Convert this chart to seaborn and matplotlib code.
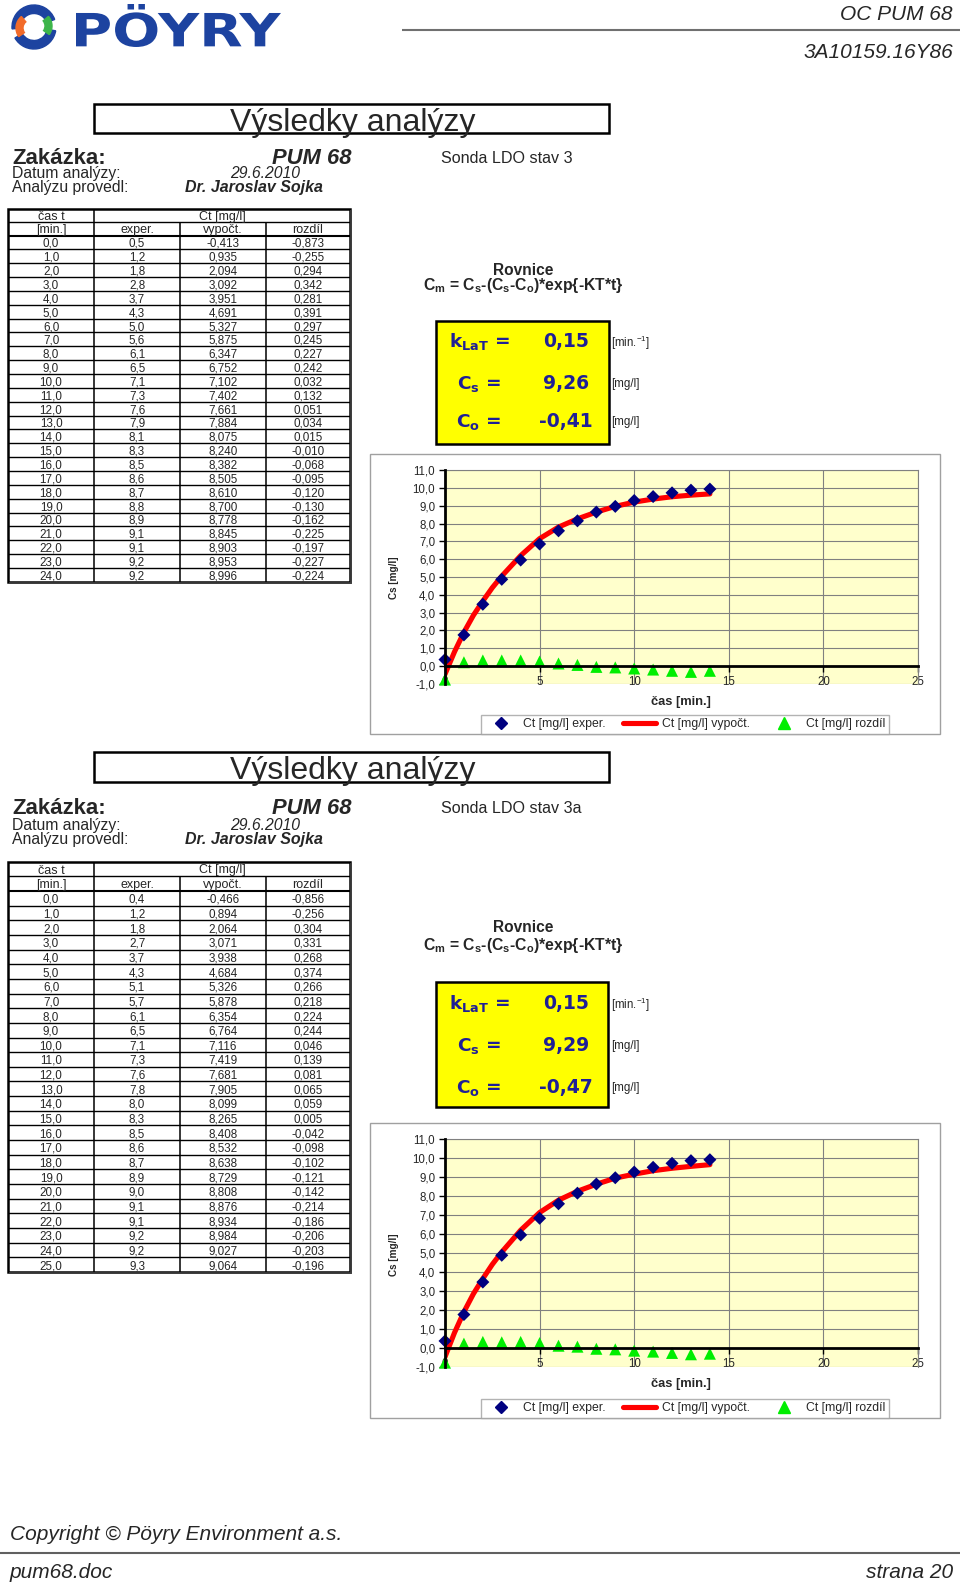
import numpy as np
import pandas as pd
import matplotlib
matplotlib.use("Agg")
import matplotlib.pyplot as plt
import seaborn as sns
from matplotlib.patches import Rectangle, Wedge, PathPatch
from matplotlib.textpath import TextPath
from matplotlib.font_manager import FontProperties
from matplotlib.lines import Line2D
from matplotlib.ticker import FuncFormatter
from matplotlib.transforms import Affine2D

sns.set_theme(style="white")
plt.rcParams['font.family'] = ['Liberation Sans', 'DejaVu Sans']
plt.rcParams['mathtext.fontset'] = 'custom'
plt.rcParams['mathtext.rm'] = 'Liberation Sans:bold'
plt.rcParams['mathtext.bf'] = 'Liberation Sans:bold'
plt.rcParams['mathtext.it'] = 'Liberation Sans:bold:italic'

# ---------------- data ----------------
t1_time = list(range(25))
t1_exper = [0.5, 1.2, 1.8, 2.8, 3.7, 4.3, 5.0, 5.6, 6.1, 6.5, 7.1, 7.3, 7.6, 7.9, 8.1,
            8.3, 8.5, 8.6, 8.7, 8.8, 8.9, 9.1, 9.1, 9.2, 9.2]
t1_calc = [-0.413, 0.935, 2.094, 3.092, 3.951, 4.691, 5.327, 5.875, 6.347, 6.752, 7.102,
           7.402, 7.661, 7.884, 8.075, 8.240, 8.382, 8.505, 8.610, 8.700, 8.778, 8.845,
           8.903, 8.953, 8.996]
t1_diff = [-0.873, -0.255, 0.294, 0.342, 0.281, 0.391, 0.297, 0.245, 0.227, 0.242, 0.032,
           0.132, 0.051, 0.034, 0.015, -0.010, -0.068, -0.095, -0.120, -0.130, -0.162,
           -0.225, -0.197, -0.227, -0.224]

t2_time = list(range(26))
t2_exper = [0.4, 1.2, 1.8, 2.7, 3.7, 4.3, 5.1, 5.7, 6.1, 6.5, 7.1, 7.3, 7.6, 7.8, 8.0,
            8.3, 8.5, 8.6, 8.7, 8.9, 9.0, 9.1, 9.1, 9.2, 9.2, 9.3]
t2_calc = [-0.466, 0.894, 2.064, 3.071, 3.938, 4.684, 5.326, 5.878, 6.354, 6.764, 7.116,
           7.419, 7.681, 7.905, 8.099, 8.265, 8.408, 8.532, 8.638, 8.729, 8.808, 8.876,
           8.934, 8.984, 9.027, 9.064]
t2_diff = [-0.856, -0.256, 0.304, 0.331, 0.268, 0.374, 0.266, 0.218, 0.224, 0.244, 0.046,
           0.139, 0.081, 0.065, 0.059, 0.005, -0.042, -0.098, -0.102, -0.121, -0.142,
           -0.214, -0.186, -0.206, -0.203, -0.196]

# chart series
c_x = list(range(15))
c1_exper = [0.37, 1.75, 3.47, 4.87, 5.95, 6.85, 7.59, 8.15, 8.64, 8.96, 9.29, 9.51, 9.72, 9.87, 9.93]
c1_fit_x = [0, 0.5, 1, 1.5, 2, 2.5, 3, 4, 5, 6, 7, 8, 9, 10, 11, 12, 13, 14]
c1_fit = [-0.45, 0.8, 1.9, 2.85, 3.65, 4.4, 5.05, 6.2, 7.15, 7.8, 8.26, 8.64, 8.96, 9.2,
          9.37, 9.5, 9.59, 9.66]
c1_diff = [-0.75, 0.22, 0.32, 0.32, 0.32, 0.26, 0.15, 0.07, -0.04, -0.07, -0.13, -0.19,
           -0.26, -0.32, -0.26]

c2_exper = [0.37, 1.76, 3.47, 4.88, 5.95, 6.83, 7.59, 8.15, 8.63, 8.96, 9.26, 9.51, 9.72, 9.86, 9.91]
c2_fit_x = [0, 0.5, 1, 1.5, 2, 2.5, 3, 4, 5, 6, 7, 8, 9, 10, 11, 12, 13, 14]
c2_fit = [-0.47, 0.8, 1.9, 2.85, 3.65, 4.4, 5.05, 6.2, 7.13, 7.78, 8.25, 8.62, 8.94, 9.15,
          9.33, 9.46, 9.56, 9.65]
c2_diff = [-0.77, 0.23, 0.32, 0.30, 0.32, 0.26, 0.12, 0.07, -0.04, -0.07, -0.14, -0.19,
           -0.26, -0.33, -0.30]

params1 = ["0,15", "9,26", "-0,41"]
params2 = ["0,15", "9,29", "-0,47"]
sondy = ["Sonda LDO stav 3", "Sonda LDO stav 3a"]
legend_labels = ["Ct [mg/l] exper.", "Ct [mg/l] vypočt.", "Ct [mg/l] rozdíl"]
table_head = ["[min.]", "exper.", "vypočt.", "rozdíl"]
x_ticks = [0, 5, 10, 15, 20, 25]
y_ticks = [-1, 0, 1, 2, 3, 4, 5, 6, 7, 8, 9, 10, 11]

# ---------------- figure ----------------
W, H = 960, 1585
fig = plt.figure(figsize=(W / 100, H / 100), dpi=100)
fig.patch.set_facecolor('white')
bg = fig.add_axes([0, 0, 1, 1], zorder=0)
bg.set_xlim(0, W)
bg.set_ylim(H, 0)
bg.axis('off')

NAVY = '#1f1f96'
VA = 'center_baseline'


def fmt(v, d):
    return f"{v:.{d}f}".replace('.', ',')


def hline(x0, x1, y, lw=1.0, c='black'):
    bg.plot([x0, x1], [y, y], color=c, lw=lw, solid_capstyle='butt')


def vline(x, y0, y1, lw=1.0, c='black'):
    bg.plot([x, x], [y0, y1], color=c, lw=lw, solid_capstyle='butt')


# ---------------- header ----------------
cx, cy, r = 34, 27, 22
bg.add_patch(Wedge((cx, cy), r, -185, -20, width=8.5, color='#1d43a0'))
bg.add_patch(Wedge((cx, cy), r, 10, 150, width=8.5, color='#1d43a0'))
bg.add_patch(Wedge((cx - 3, cy + 1), r - 7, 145, 230, width=7, color='#f26b2a'))
bg.add_patch(Wedge((cx + 3, cy - 1), r - 7, -40, 35, width=7, color='#3db54a'))

fp = FontProperties(family='DejaVu Sans', weight='bold')
tp = TextPath((0, 0), "PÖYRY", size=1, prop=fp)
ext = tp.get_extents()
lx0, lx1, ly0, ly1 = 76, 281, 4, 47
tr = (Affine2D().translate(-ext.x0, -ext.y0)
      .scale((lx1 - lx0) / ext.width, -(ly1 - ly0) / ext.height)
      .translate(lx0, ly1))
bg.add_patch(PathPatch(tr.transform_path(tp), color='#1d43a0', lw=0))

bg.text(953, 12, "OC PUM 68", ha='right', va=VA, fontsize=15, style='italic')
hline(402, 960, 30, lw=1.5, c='#707070')
bg.text(953, 50, "3A10159.16Y86", ha='right', va=VA, fontsize=15, style='italic')

# ---------------- footer ----------------
bg.text(10, 1533, "Copyright © Pöyry Environment a.s.", ha='left', va=VA,
        fontsize=15, style='italic')
hline(0, 960, 1553, lw=1.5, c='#606060')
bg.text(10, 1571, "pum68.doc", ha='left', va=VA, fontsize=15, style='italic')
bg.text(953, 1571, "strana 20", ha='right', va=VA, fontsize=15, style='italic')


def draw_section(S, times, ex, calc, diff, params, sonda,
                 cex, cfx, cfy, cdf):
    # title box
    x0, y0, x1, y1 = S['title_box']
    bg.add_patch(Rectangle((x0, y0), x1 - x0, y1 - y0, fc='white', ec='black', lw=1.8))
    bg.text((x0 + x1) / 2 + 1, S['title_y'], "Výsledky analýzy", ha='center',
            va=VA, fontsize=23)
    # info
    bg.text(12, S['zak_y'], "Zakázka:", ha='left', va=VA, fontsize=16,
            weight='bold')
    bg.text(351, S['zak_y'], "PUM 68", ha='right', va=VA, fontsize=15.8,
            weight='bold', style='italic')
    bg.text(441, S['zak_y'] + 1, sonda, ha='left', va=VA, fontsize=11.6)
    bg.text(12, S['dat_y'], "Datum analýzy:", ha='left', va=VA, fontsize=11.3)
    bg.text(230, S['dat_y'], "29.6.2010", ha='left', va=VA, fontsize=11.3,
            style='italic')
    bg.text(12, S['ana_y'], "Analýzu provedl:", ha='left', va=VA, fontsize=11.3)
    bg.text(185, S['ana_y'], "Dr. Jaroslav Sojka", ha='left', va=VA,
            fontsize=11.5, weight='bold', style='italic')

    # table
    xc = [8, 94, 180, 266, 350]
    top, r1, r2, pitch = S['tab']
    n = len(times)
    bottom = r2 + n * pitch
    bg.text((xc[0] + xc[1]) / 2, (top + r1) / 2, "čas t", ha='center',
            va=VA, fontsize=9)
    bg.text((xc[1] + xc[4]) / 2, (top + r1) / 2, "Ct [mg/l]", ha='center',
            va=VA, fontsize=9)
    for j, lab in enumerate(table_head):
        bg.text((xc[j] + xc[j + 1]) / 2, (r1 + r2) / 2, lab, ha='center',
                va=VA, fontsize=9)
    for i in range(n):
        yc = r2 + (i + 0.5) * pitch
        vals = [fmt(times[i], 1), fmt(ex[i], 1), fmt(calc[i], 3), fmt(diff[i], 3)]
        for j, v in enumerate(vals):
            bg.text((xc[j] + xc[j + 1]) / 2, yc, v, ha='center', va=VA,
                    fontsize=8.4)
        if i > 0:
            hline(xc[0], xc[4], r2 + i * pitch, lw=1.0)
    hline(xc[0], xc[4], r1, lw=1.0)
    hline(xc[0], xc[4], r2, lw=1.5)
    vline(xc[1], top, bottom, lw=1.1)
    vline(xc[2], r1, bottom, lw=1.1)
    vline(xc[3], r1, bottom, lw=1.1)
    bg.add_patch(Rectangle((xc[0], top), xc[4] - xc[0], bottom - top, fc='none',
                           ec='black', lw=1.8))
    vline(xc[4] + 0.8, top + 1, bottom + 1.5, lw=1.2, c='#404040')
    hline(xc[0] + 1, xc[4] + 1.5, bottom + 0.8, lw=1.2, c='#404040')

    # equation
    bg.text(523, S['rov_y'], "Rovnice", ha='center', va=VA, fontsize=11.2,
            weight='bold')
    bg.text(523, S['eq_y'],
            r"C$_\mathbf{m}$ = C$_\mathbf{s}$-(C$_\mathbf{s}$-C$_\mathbf{o}$)*exp{-KT*t}",
            ha='center', va=VA, fontsize=11.3, weight='bold')

    # yellow box
    x0, y0, x1, y1 = S['ybox']
    bg.add_patch(Rectangle((x0, y0), x1 - x0, y1 - y0, fc='#ffff00', ec='black', lw=1.8))
    labels = [r"k$_\mathbf{LaT}$ =", r"C$_\mathbf{s}$ =", r"C$_\mathbf{o}$ ="]
    units = [r"[min.$^{\mathregular{-1}}$]", "[mg/l]", "[mg/l]"]
    for lab, val, unit, yy in zip(labels, params, units, S['yrows']):
        bg.text(479, yy, lab, ha='center', va=VA, fontsize=13.3, weight='bold',
                color=NAVY, family='DejaVu Sans', math_fontfamily='dejavusans')
        bg.text(566, yy, val, ha='center', va=VA, fontsize=13.5, weight='bold',
                color=NAVY, family='DejaVu Sans')
        bg.text(611, yy + 1, unit, ha='left', va=VA, fontsize=8.3,
                math_fontfamily='dejavusans')

    # chart
    x0, y0, x1, y1 = S['outer']
    bg.add_patch(Rectangle((x0, y0), x1 - x0, y1 - y0, fc='white', ec='#a0a0a0', lw=1.0))
    px0, py0, px1, py1 = S['plot']
    ax = fig.add_axes([px0 / W, 1 - py1 / H, (px1 - px0) / W, (py1 - py0) / H], zorder=2)
    ax.set_facecolor('#ffffcc')
    sns.lineplot(x=cfx, y=cfy, color='#ff0000', lw=3.7, ax=ax, sort=False,
                 estimator=None, zorder=3)
    sns.scatterplot(x=c_x, y=cex, marker='D', color='#000080', s=44, edgecolor='none',
                    ax=ax, zorder=4, clip_on=False)
    sns.scatterplot(x=c_x, y=cdf, marker='^', color='#00ee00', s=75, edgecolor='none',
                    ax=ax, zorder=4, clip_on=False)
    ax.set_xlim(0, 25)
    ax.set_ylim(-1, 11)
    ax.set_xticks(x_ticks)
    ax.set_yticks(y_ticks)
    ax.xaxis.set_major_formatter(FuncFormatter(lambda v, p: f"{v:.0f}"))
    ax.yaxis.set_major_formatter(FuncFormatter(lambda v, p: fmt(v, 1)))
    ax.grid(True, color='#808080', lw=0.8)
    ax.set_axisbelow(True)
    for s in ['top', 'right']:
        ax.spines[s].set_color('#808080')
        ax.spines[s].set_linewidth(0.8)
    ax.spines['left'].set_color('black')
    ax.spines['left'].set_linewidth(2.0)
    ax.spines['bottom'].set_color('black')
    ax.spines['bottom'].set_linewidth(2.0)
    ax.spines['bottom'].set_position(('data', 0))
    ax.spines['left'].set_zorder(5)
    ax.spines['bottom'].set_zorder(5)
    ax.tick_params(axis='both', direction='out', length=4, width=1, color='black',
                   labelsize=8.3, pad=3, left=True, bottom=True)
    ax.set_xlabel('')
    ax.set_ylabel('')
    bg.text((px0 + px1) / 2 - 1, S['xlab_y'], "čas [min.]", ha='center', va=VA,
            fontsize=9.3, weight='bold')
    bg.text(S['ylab'][0], S['ylab'][1], "Cs [mg/l]", ha='center', va='center',
            fontsize=7.2, weight='bold', rotation=90)

    handles = [Line2D([], [], marker='D', color='#000080', ls='none', ms=6),
               Line2D([], [], color='#ff0000', lw=3.7),
               Line2D([], [], marker='^', color='#00ee00', ls='none', ms=8.5)]
    leg = fig.legend(handles, legend_labels, ncol=3, loc='center',
                     bbox_to_anchor=(S['leg'][0] / W, 1 - S['leg'][1] / H),
                     fontsize=8.8, frameon=True, fancybox=False, edgecolor='#a0a0a0',
                     handlelength=2.7, columnspacing=1.4, handletextpad=0.5,
                     borderpad=0.25, borderaxespad=0)
    leg.get_frame().set_linewidth(1.0)


S1 = dict(title_box=(94, 104, 609, 133), title_y=119,
          zak_y=156, dat_y=172, ana_y=186,
          tab=(209, 222, 235.5, 13.85),
          rov_y=269, eq_y=283,
          ybox=(436, 321, 609, 444), yrows=(339, 381, 420),
          outer=(370, 454, 940, 734), plot=(445, 470, 918, 684),
          leg=(685, 724.5), xlab_y=700, ylab=(394, 578))
S2 = dict(title_box=(94, 752, 609, 782), title_y=768,
          zak_y=806, dat_y=824, ana_y=838,
          tab=(862, 876, 891, 14.65),
          rov_y=926, eq_y=943,
          ybox=(436, 982, 608, 1107), yrows=(1001, 1044, 1085),
          outer=(370, 1123, 940, 1418), plot=(445, 1139, 918, 1367),
          leg=(685, 1408.5), xlab_y=1383, ylab=(394, 1255))

draw_section(S1, t1_time, t1_exper, t1_calc, t1_diff, params1, sondy[0],
             c1_exper, c1_fit_x, c1_fit, c1_diff)
draw_section(S2, t2_time, t2_exper, t2_calc, t2_diff, params2, sondy[1],
             c2_exper, c2_fit_x, c2_fit, c2_diff)

fig.savefig("out.png", dpi=100)
